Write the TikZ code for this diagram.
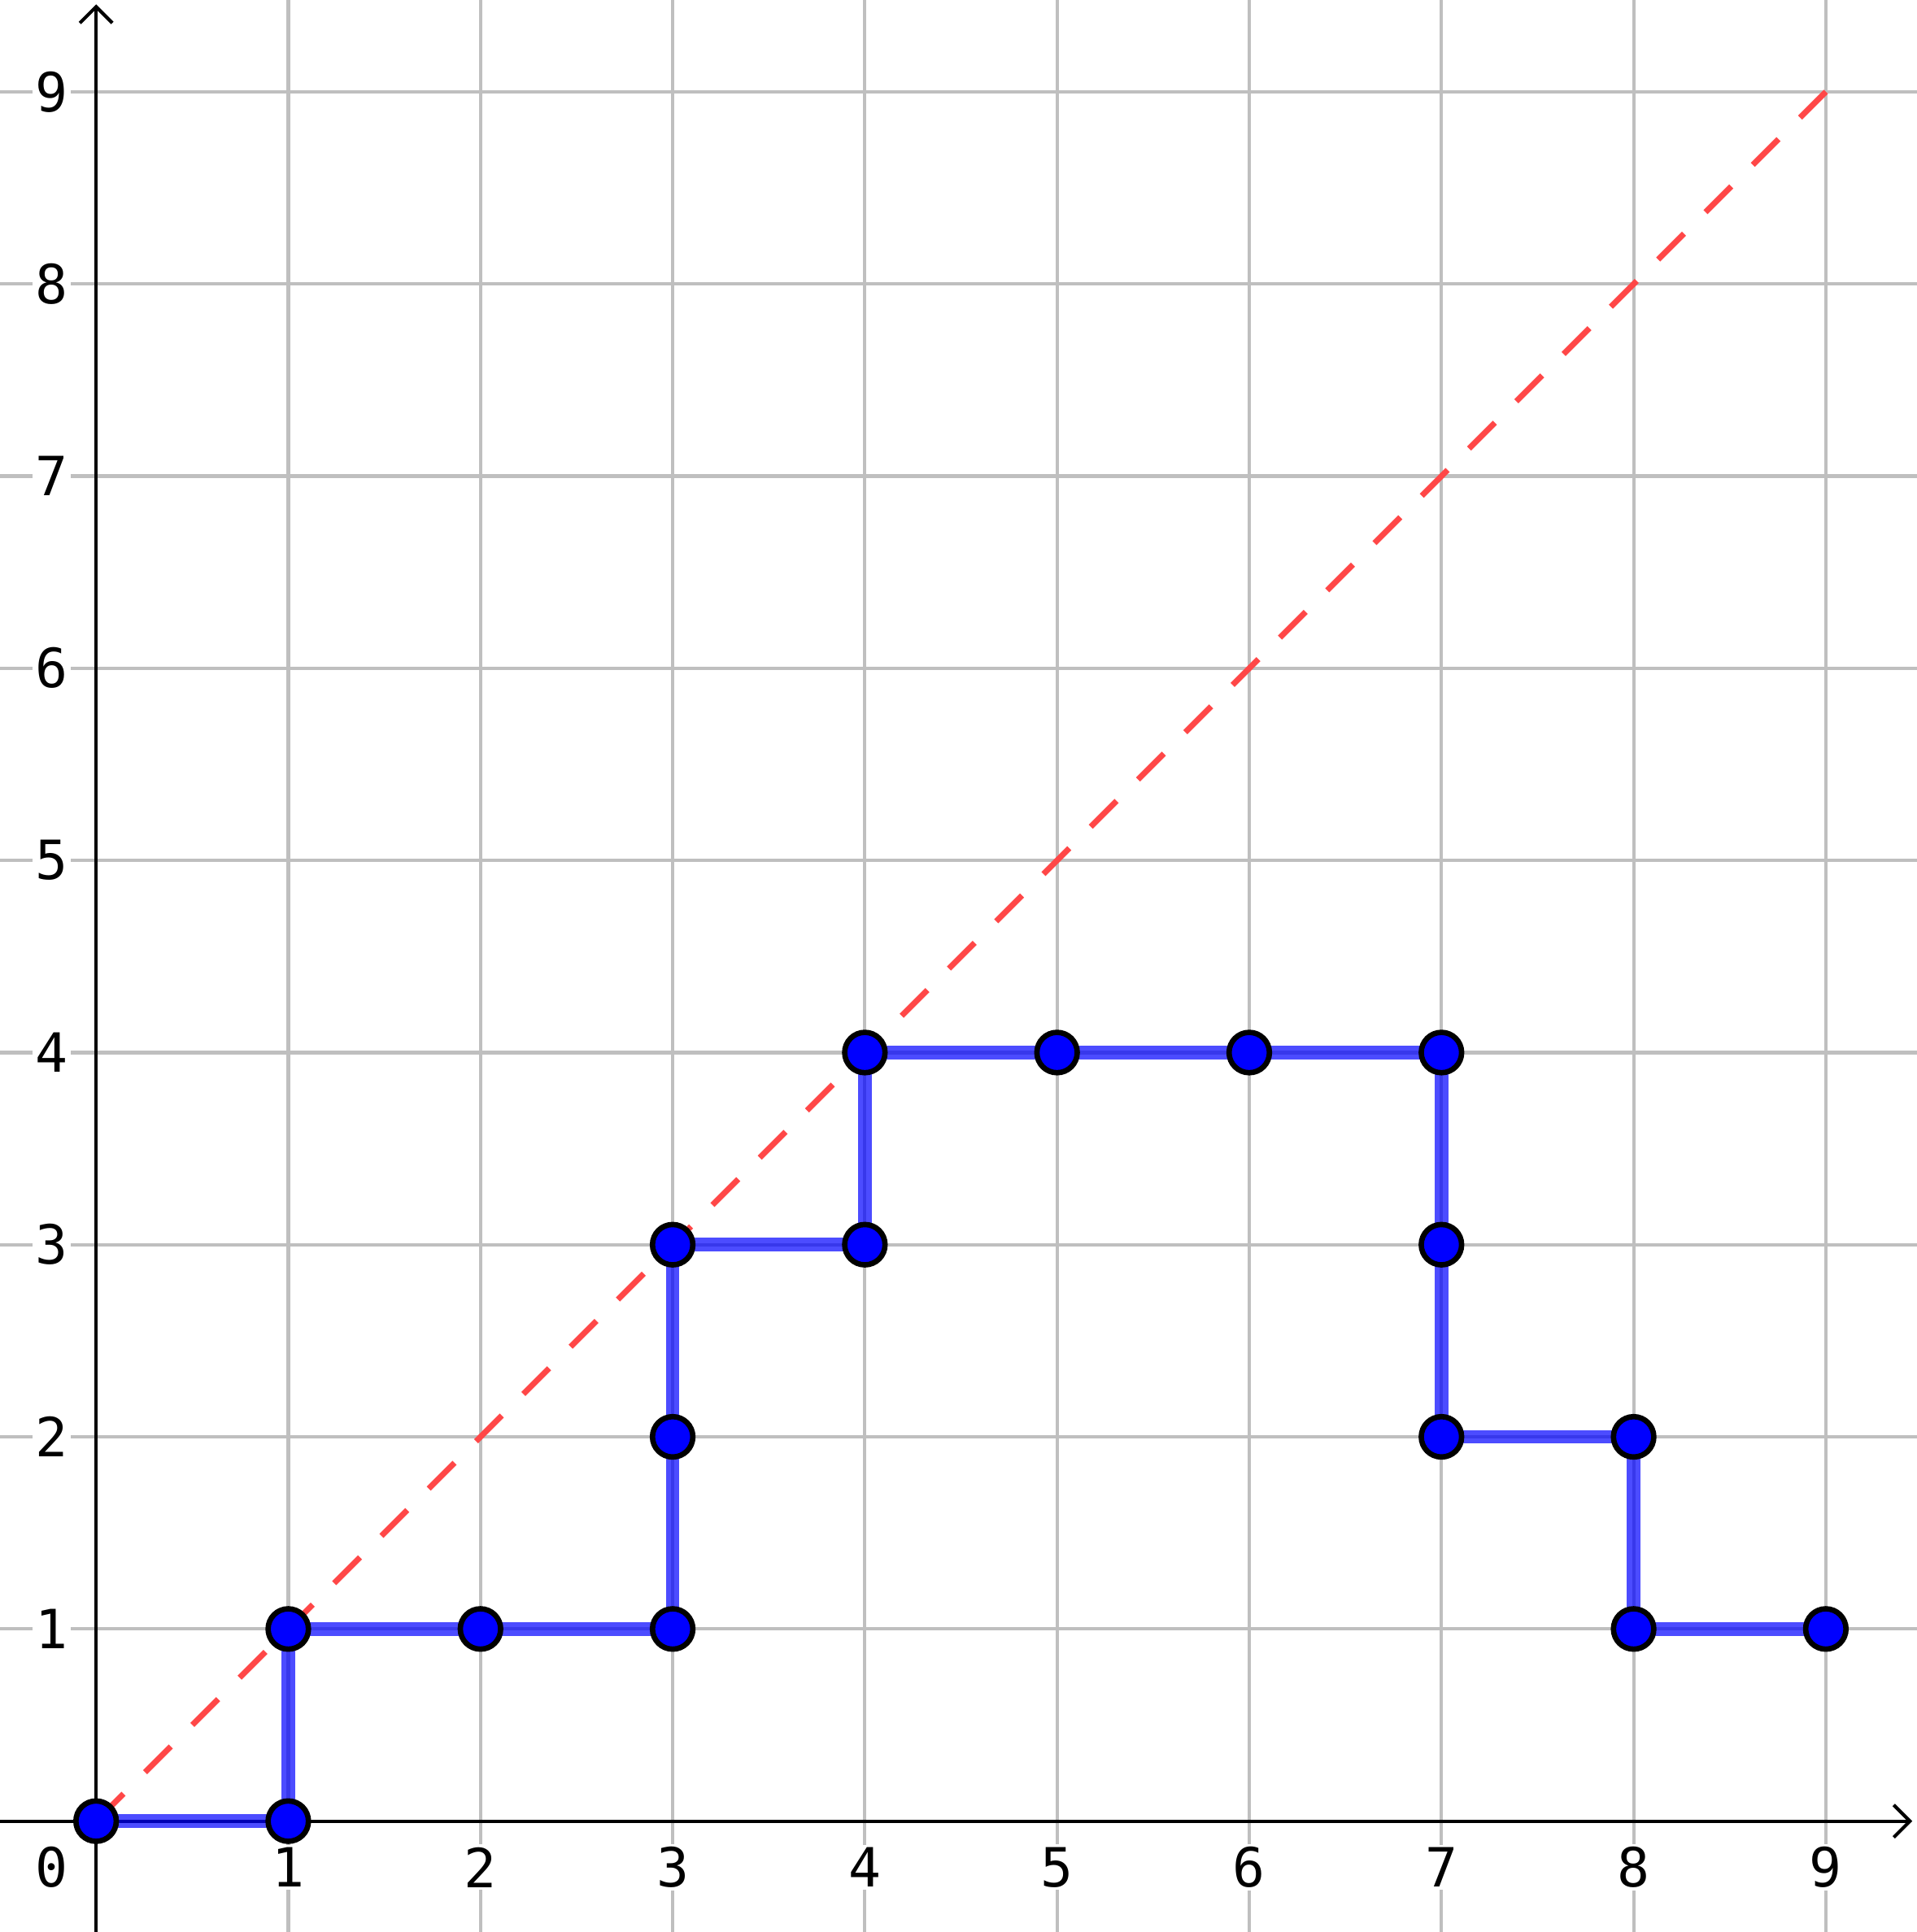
\documentclass[tikz,border=0pt]{standalone}
\usepackage{fontspec}
\newfontfamily\numfont{DejaVu Sans Mono}
\usetikzlibrary{arrows.meta}

\begin{document}
\begin{tikzpicture}[
    gridline/.style={draw=black!25, line width=0.5pt},
    axis/.style={-{Straight Barb[length=2.4pt,width=4.8pt]}, line width=0.5pt},
    diag/.style={draw=red!72, line width=0.85pt, dash pattern=on 5.4pt off 4.5pt},
    walk/.style={draw=blue, draw opacity=0.7, line width=2pt, line join=round},
    vtx/.style={circle, draw=black, fill=blue, line width=0.8pt, minimum size=0.21cm, inner sep=0pt},
    num/.style={font=\numfont\fontsize{8}{9}\selectfont, fill=white, inner sep=0.4pt}
]
\useasboundingbox (-0.5,-0.577) rectangle (9.474,9.478);

% grid
\foreach \k in {1,...,9} {
    \draw[gridline] (-0.5,\k) -- (9.474,\k);
    \draw[gridline] (\k,-0.577) -- (\k,9.478);
}

% axes
\coordinate (xl) at (-0.5,0);
\coordinate (xr) at (9.45,0);
\coordinate (yb) at (0,-0.577);
\coordinate (yt) at (0,9.455);
\draw[axis] (xl) -- (xr);
\draw[axis] (yb) -- (yt);

% tick labels
\node[num] (n0) at (-0.23,-0.24) {0};
\foreach \k in {1,...,9} {
    \node[num] (nx\k) at (\k,-0.24) {\k};
    \node[num] (ny\k) at (-0.23,\k) {\k};
}

% path points
\foreach \x/\y [count=\i from 0] in {0/0,1/0,1/1,2/1,3/1,3/2,3/3,4/3,4/4,5/4,6/4,7/4,7/3,7/2,8/2,8/1,9/1}
    \coordinate (p\i) at (\x,\y);
\coordinate (top) at (9,9);

\draw[diag] (top) -- (p0);
\draw[walk] (p0) \foreach \i in {1,...,16} {-- (p\i)};

\foreach \i in {0,...,16}
    \node[vtx] (v\i) at (p\i) {};

\end{tikzpicture}
\end{document}
